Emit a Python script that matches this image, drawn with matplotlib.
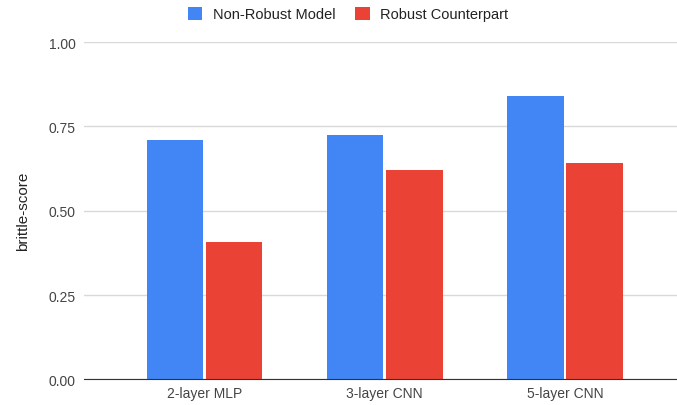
import matplotlib.pyplot as plt
import numpy as np

plt.rcParams['font.family'] = ['Liberation Sans', 'DejaVu Sans']

models = ['2-layer MLP', '3-layer CNN', '5-layer CNN']
non_robust = [0.71, 0.725, 0.839]
robust = [0.406, 0.621, 0.642]
series_names = ['Non-Robust Model', 'Robust Counterpart']
yticks = [0.0, 0.25, 0.5, 0.75, 1.0]

blue = '#4285f4'
red = '#ea4335'

fig = plt.figure(figsize=(6.77, 4.06), dpi=100)
ax = fig.add_axes([0.124, 0.063, 0.876, 0.831])

x = np.arange(len(models))
w = 0.313
off = 0.1645
ax.bar(x - off, non_robust, w, color=blue, label=series_names[0], zorder=3)
ax.bar(x + off, robust, w, color=red, label=series_names[1], zorder=3)

ax.set_xlim(-0.668, 2.621)
ax.set_ylim(0, 1.0)
ax.set_yticks(yticks)
ax.set_yticklabels(['%.2f' % v for v in yticks])
ax.set_xticks(x)
ax.set_xticklabels(models)

for s in ['top', 'right', 'left']:
    ax.spines[s].set_visible(False)
ax.spines['bottom'].set_color('#333333')
ax.spines['bottom'].set_zorder(4)
ax.grid(axis='y', color='#d9d9d9', linewidth=1, zorder=0)
ax.tick_params(axis='both', length=0, labelsize=10, labelcolor='#444444')
ax.tick_params(axis='y', pad=6)
ax.tick_params(axis='x', pad=5)

ax.set_ylabel('brittle-score', fontsize=11, color='#222222', labelpad=13)

fig.legend(loc='upper center', bbox_to_anchor=(0.514, 1.013), ncol=2, frameon=False,
           fontsize=10.5, labelcolor='#222222', handlelength=1.0, handleheight=1.0,
           columnspacing=1.33, handletextpad=0.72)

fig.savefig('out.png', dpi=100)
